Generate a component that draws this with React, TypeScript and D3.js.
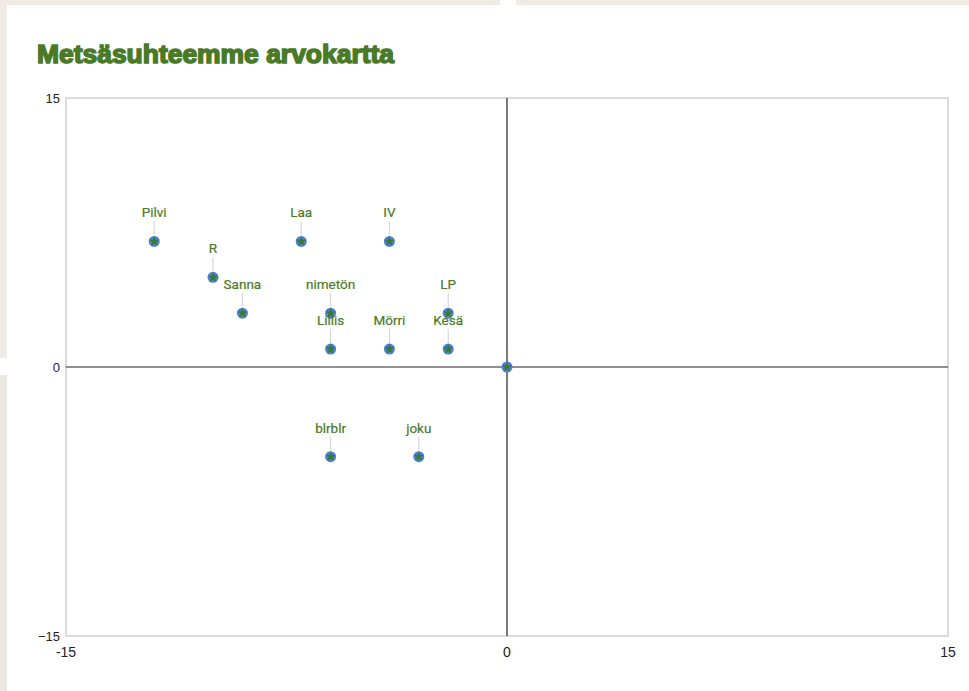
import React from "react";
import { scaleLinear, symbol, symbolStar } from "d3";

const names = ["Pilvi", "R", "Sanna", "Laa", "IV", "nimetön", "Lillis", "Mörri", "LP", "Kesä", "", "blrblr", "joku"];
const xValues = [-12, -10, -9, -7, -4, -6, -6, -4, -2, -2, 0, -6, -3];
const yValues = [7, 5, 3, 7, 7, 3, 1, 1, 3, 1, 0, -5, -5];
const xTicks = [-15, 0, 15];
const xTickLabels = ["-15", "0", "15"];
const yTicks = [15, 0, -15];
const yTickLabels = ["15", "0", "−15"];

const W = 969;
const H = 691;
const margin = { left: 66, right: 21, top: 98, bottom: 55 };

export default function App() {
  const x = scaleLinear().domain([-15, 15]).range([margin.left, W - margin.right]);
  const y = scaleLinear().domain([-15, 15]).range([H - margin.bottom, margin.top]);
  const star = symbol().type(symbolStar).size(34)() ?? "";

  const points = names.map((name, i) => ({ name, x: xValues[i], y: yValues[i] }));

  return (
    <svg
      width={W}
      height={H}
      style={{ position: "absolute", left: 0, top: 0, fontFamily: "Roboto, Arial, sans-serif" }}
    >
      {/* page background pieces */}
      <rect x={0} y={0} width={W} height={H} fill="#ffffff" />
      <rect x={0} y={0} width={500} height={5} fill="#f0ebe4" />
      <rect x={516} y={0} width={W - 516} height={5} fill="#f0ebe4" />
      <rect x={0} y={0} width={7} height={358} fill="#f0ebe4" />
      <rect x={0} y={375} width={7} height={H - 375} fill="#ebe6de" />

      {/* title */}
      <text
        x={37}
        y={63}
        fill="#4a7a27"
        fontSize={25}
        fontWeight={700}
        fontFamily="'Liberation Sans', Arial, sans-serif"
        stroke="#4a7a27"
        strokeWidth={1.5}
        textLength={357}
        lengthAdjust="spacingAndGlyphs"
      >
        Metsäsuhteemme arvokartta
      </text>

      {/* frame */}
      <rect
        x={x(-15)}
        y={y(15)}
        width={x(15) - x(-15)}
        height={y(-15) - y(15)}
        fill="none"
        stroke="#cfcfcf"
        strokeWidth={1.5}
      />

      {/* zero lines */}
      <line x1={x(0)} x2={x(0)} y1={y(15)} y2={y(-15)} stroke="#222" strokeWidth={1.2} />
      <line x1={x(-15)} x2={x(15)} y1={y(0)} y2={y(0)} stroke="#222" strokeWidth={1.2} />

      {/* y tick labels */}
      {yTicks.map((t, i) => (
        <text key={`y${i}`} x={x(-15) - 6} y={y(t)} dy="0.35em" textAnchor="end" fontSize={13} fill="#222" fontFamily="'Liberation Sans', Arial, sans-serif">
          {yTickLabels[i]}
        </text>
      ))}

      {/* x tick labels */}
      {xTicks.map((t, i) => (
        <text key={`x${i}`} x={x(t)} y={y(-15) + 21} textAnchor="middle" fontSize={14} fill="#222" fontFamily="'Liberation Sans Narrow', 'Liberation Sans', Arial, sans-serif">
          {xTickLabels[i]}
        </text>
      ))}

      {/* points */}
      {points.map((p, i) => (
        <g key={i} transform={`translate(${x(p.x)},${y(p.y)})`}>
          {p.name && (
            <>
              <line x1={0} x2={0} y1={-6} y2={-20} stroke="#d0d0d0" strokeWidth={1} />
              <text y={-24} textAnchor="middle" fontSize={13.5} fill="#4a7a27" stroke="#4a7a27" strokeWidth={0.2}>
                {p.name}
              </text>
            </>
          )}
          <circle r={5.5} fill="#4a7fd6" />
          <path d={star} fill="#3b7a2e" />
        </g>
      ))}
    </svg>
  );
}
